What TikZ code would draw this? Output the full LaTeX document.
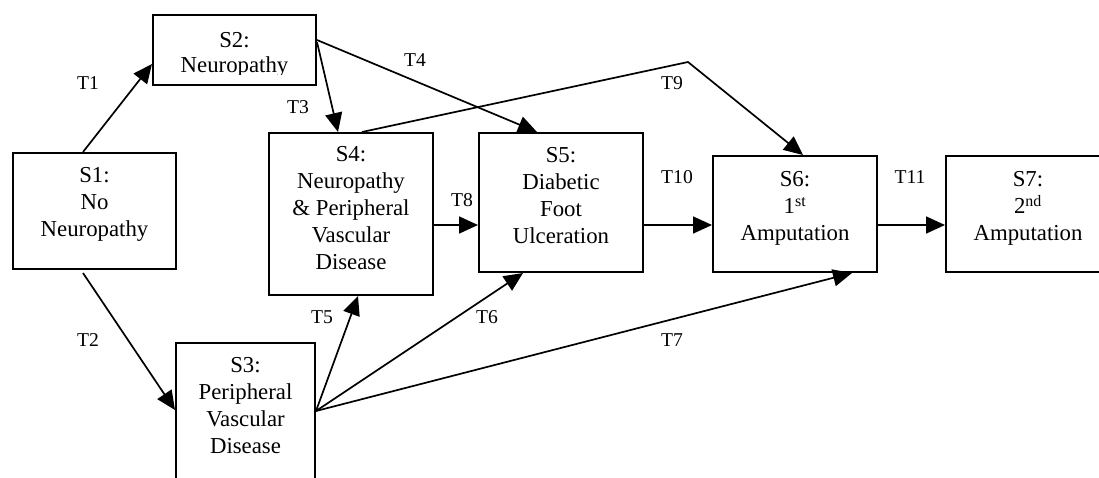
\documentclass[tikz,border=0pt]{standalone}
\usepackage{fontspec}
\setmainfont{Liberation Serif}
\usetikzlibrary{arrows.meta,calc}
\begin{document}
\begin{tikzpicture}[x=1pt,y=-1pt,
  box/.style={draw, line width=2pt, inner sep=0pt, anchor=north west},
  txt/.style={inner sep=0pt, anchor=north, align=center, font=\fontsize{22.8pt}{27pt}\selectfont},
  lbl/.style={inner sep=0pt, font=\fontsize{19.6pt}{22pt}\selectfont},
  conn/.style={line width=1.7pt, -{Triangle[length=19pt,width=17pt]}},
  ]
\useasboundingbox (0,0) rectangle (1099,477);
\clip (0,0) rectangle (1099,477);

% boxes
\node[box, minimum width=163pt, minimum height=116pt] (s1) at (12,152) {};
\node[box, minimum width=163pt, minimum height=70pt] (s2) at (152,14) {};
\node[box, minimum width=139pt, minimum height=170pt] (s3) at (175,342) {};
\node[box, minimum width=164pt, minimum height=162pt] (s4) at (268,132) {};
\node[box, minimum width=164pt, minimum height=139pt] (s5) at (478,132) {};
\node[box, minimum width=164pt, minimum height=116pt] (s6) at (712,155) {};
\node[box, minimum width=164pt, minimum height=116pt] (s7) at (945,155) {};

% texts
\node[txt] (s1t) at ($(s1.north)+(0,15.6)$) {S1:\\No\\Neuropathy};
\begin{scope}
  \clip (150,10) rectangle (320,74);
  \node[txt, font=\fontsize{22.8pt}{25pt}\selectfont] (s2t) at ($(s2.north)+(0,18.6)$) {S2:\\Neuropathy};
\end{scope}
\node[txt] (s3t) at ($(s3.north)+(0,15.6)$) {S3:\\Peripheral\\Vascular\\Disease};
\node[txt] (s4t) at ($(s4.north)+(0,14.6)$) {S4:\\Neuropathy\\\& Peripheral\\Vascular\\Disease};
\node[txt] (s5t) at ($(s5.north)+(0,15.6)$) {S5:\\Diabetic\\Foot\\Ulceration};
\node[txt] (s6t) at ($(s6.north)+(0,16.6)$) {S6:\\1\textsuperscript{st}\\Amputation};
\node[txt] (s7t) at ($(s7.north)+(0,16.6)$) {S7:\\2\textsuperscript{nd}\\Amputation};

% connectors
\coordinate (t9bend) at (688,62);
\draw[conn] ($(s1.north)+(-11.5,0)$) -- ($(s2.west)+(0,14)$);
\draw[conn] ($(s1.south)+(-11.5,3)$) -- ($(s3.north west)+(0,68)$);
\draw[conn] ($(s2.north east)+(0,28)$) -- ($(s4.north west)+(70,0)$);
\draw[conn] ($(s2.north east)+(0,26)$) -- ($(s5.north west)+(59,0)$);
\draw[conn] ($(s3.north east)+(0,69)$) -- ($(s4.south west)+(90,0)$);
\draw[conn] ($(s3.north east)+(0,69)$) -- ($(s5.south west)+(45,0)$);
\draw[conn] ($(s3.north east)+(0,69)$) -- ($(s6.south west)+(140,0)$);
\draw[conn] ($(s4.north east)+(0,93)$) -- ($(s5.north west)+(0,93)$);
\draw[conn] ($(s4.north west)+(94,0)$) -- (t9bend) -- ($(s6.north west)+(91,0)$);
\draw[conn] ($(s5.north east)+(0,93)$) -- ($(s6.north west)+(0,70)$);
\draw[conn] ($(s6.north east)+(0,70)$) -- ($(s7.north west)+(0,70)$);

% labels
\node[lbl] (t1) at (88,83) {T1};
\node[lbl] (t2) at (88,340) {T2};
\node[lbl] (t3) at (298,107) {T3};
\node[lbl] (t4) at (415,60) {T4};
\node[lbl] (t5) at (322,317) {T5};
\node[lbl] (t6) at (487,317) {T6};
\node[lbl] (t7) at (672,340) {T7};
\node[lbl] (t8) at (462,200) {T8};
\node[lbl] (t9) at (672,83) {T9};
\node[lbl] (t10) at (677,177) {T10};
\node[lbl] (t11) at (910,177) {T11};
\end{tikzpicture}
\end{document}
